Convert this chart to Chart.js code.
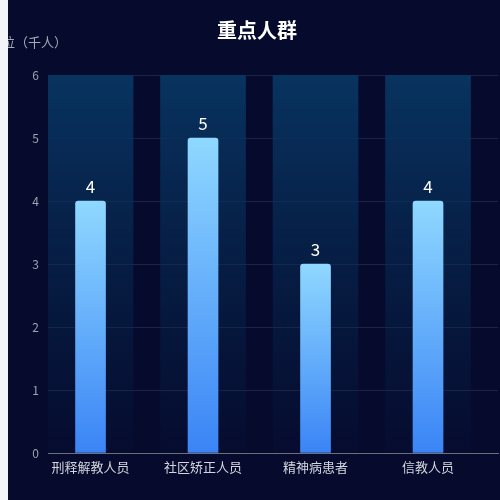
<!DOCTYPE html>
<html>
<head>
<meta charset="utf-8">
<script src="https://cdn.jsdelivr.net/npm/chart.js@4/dist/chart.umd.min.js"></script>
<style>
  html, body { margin: 0; padding: 0; background: #f3f4f8; }
  .chart_container { position: absolute; left: 8px; top: 0; width: 492px; height: 500px; background: #060a2d; }
</style>
</head>
<body>
<div class="chart_container">
  <canvas id="myChart" width="492" height="500"></canvas>
</div>
<script>
const categories = ['刑释解教人员', '社区矫正人员', '精神病患者', '信教人员'];
const values = [4, 5, 3, 4];
const maxValues = [6, 6, 6, 6];
const yTicks = [0, 1, 2, 3, 4, 5, 6];

const FONT = '"Noto Sans CJK SC", "Noto Sans", sans-serif';

// gradient per bar, from its top down to the zero line
const barGradient = (ctx, top, bottom) => {
    const { chart } = ctx;
    const y = chart.scales.y;
    if (!chart.chartArea || !y || !ctx.raw) return top;
    const y0 = y.getPixelForValue(ctx.raw.y);
    const y1 = y.getPixelForValue(0);
    if (!isFinite(y0) || !isFinite(y1)) return top;
    const g = chart.ctx.createLinearGradient(0, y0, 0, y1);
    g.addColorStop(0, top);
    g.addColorStop(1, bottom);
    return g;
};

const unitLabel = {
    id: 'unitLabel',
    afterDraw(chart) {
        const { ctx, chartArea } = chart;
        ctx.save();
        ctx.font = '13px ' + FONT;
        ctx.fillStyle = '#a6aab6';
        ctx.textAlign = 'right';
        ctx.textBaseline = 'middle';
        ctx.fillText('单位（千人）', 59, chartArea.top - 33);
        ctx.restore();
    }
};

const valueLabels = {
    id: 'valueLabels',
    afterDatasetsDraw(chart) {
        const { ctx } = chart;
        const meta = chart.getDatasetMeta(1);
        ctx.save();
        ctx.font = '17px ' + FONT;
        ctx.fillStyle = '#ffffff';
        ctx.textAlign = 'center';
        ctx.textBaseline = 'bottom';
        meta.data.forEach((bar, i) => {
            ctx.fillText(String(values[i]), bar.x, bar.y - 6);
        });
        ctx.restore();
    }
};

new Chart(document.getElementById('myChart'), {
    type: 'bar',
    data: {
        datasets: [{
            label: 'bg',
            data: maxValues.map((v, i) => ({ x: i, y: v })),
            backgroundColor: (ctx) => barGradient(ctx, 'rgba(8,52,96,1)', 'rgba(8,40,80,0.08)'),
            barThickness: 85,
            grouped: false,
            order: 2
        }, {
            label: '重点人群',
            data: values.map((v, i) => ({ x: i, y: v })),
            backgroundColor: (ctx) => barGradient(ctx, '#8fd8ff', '#3a84f6'),
            borderRadius: { topLeft: 3, topRight: 3 },
            borderSkipped: 'start',
            barThickness: 30,
            grouped: false,
            order: 1
        }]
    },
    options: {
        responsive: false,
        animation: false,
        layout: { padding: { left: 8, right: 2, top: 0, bottom: 0 } },
        plugins: {
            legend: { display: false },
            tooltip: { enabled: false },
            title: {
                display: true,
                text: '重点人群',
                color: '#ffffff',
                font: { family: FONT, size: 20, weight: 'bold', lineHeight: 1.2 },
                padding: { top: 18, bottom: 33 }
            }
        },
        scales: {
            x: {
                type: 'linear',
                min: -0.378,
                max: 3.622,
                offset: false,
                grid: { display: false, drawTicks: false },
                border: { display: true, color: '#6e7079', width: 1 },
                afterBuildTicks: (scale) => {
                    scale.ticks = categories.map((c, i) => ({ value: i }));
                },
                afterFit: (scale) => { scale.height = 47; },
                ticks: {
                    autoSkip: false,
                    maxRotation: 0,
                    padding: 6,
                    color: '#d4d6de',
                    font: { family: FONT, size: 13 },
                    callback: (v) => categories[v]
                }
            },
            y: {
                min: 0,
                max: 6,
                afterBuildTicks: (scale) => {
                    scale.ticks = yTicks.map(v => ({ value: v }));
                },
                afterFit: (scale) => { scale.width = 32; },
                grid: { color: '#1c2249', drawTicks: false },
                border: { display: false },
                ticks: {
                    padding: 9,
                    color: '#9ea2ae',
                    font: { family: FONT, size: 12 }
                }
            }
        }
    },
    plugins: [unitLabel, valueLabels]
});
</script>
</body>
</html>
